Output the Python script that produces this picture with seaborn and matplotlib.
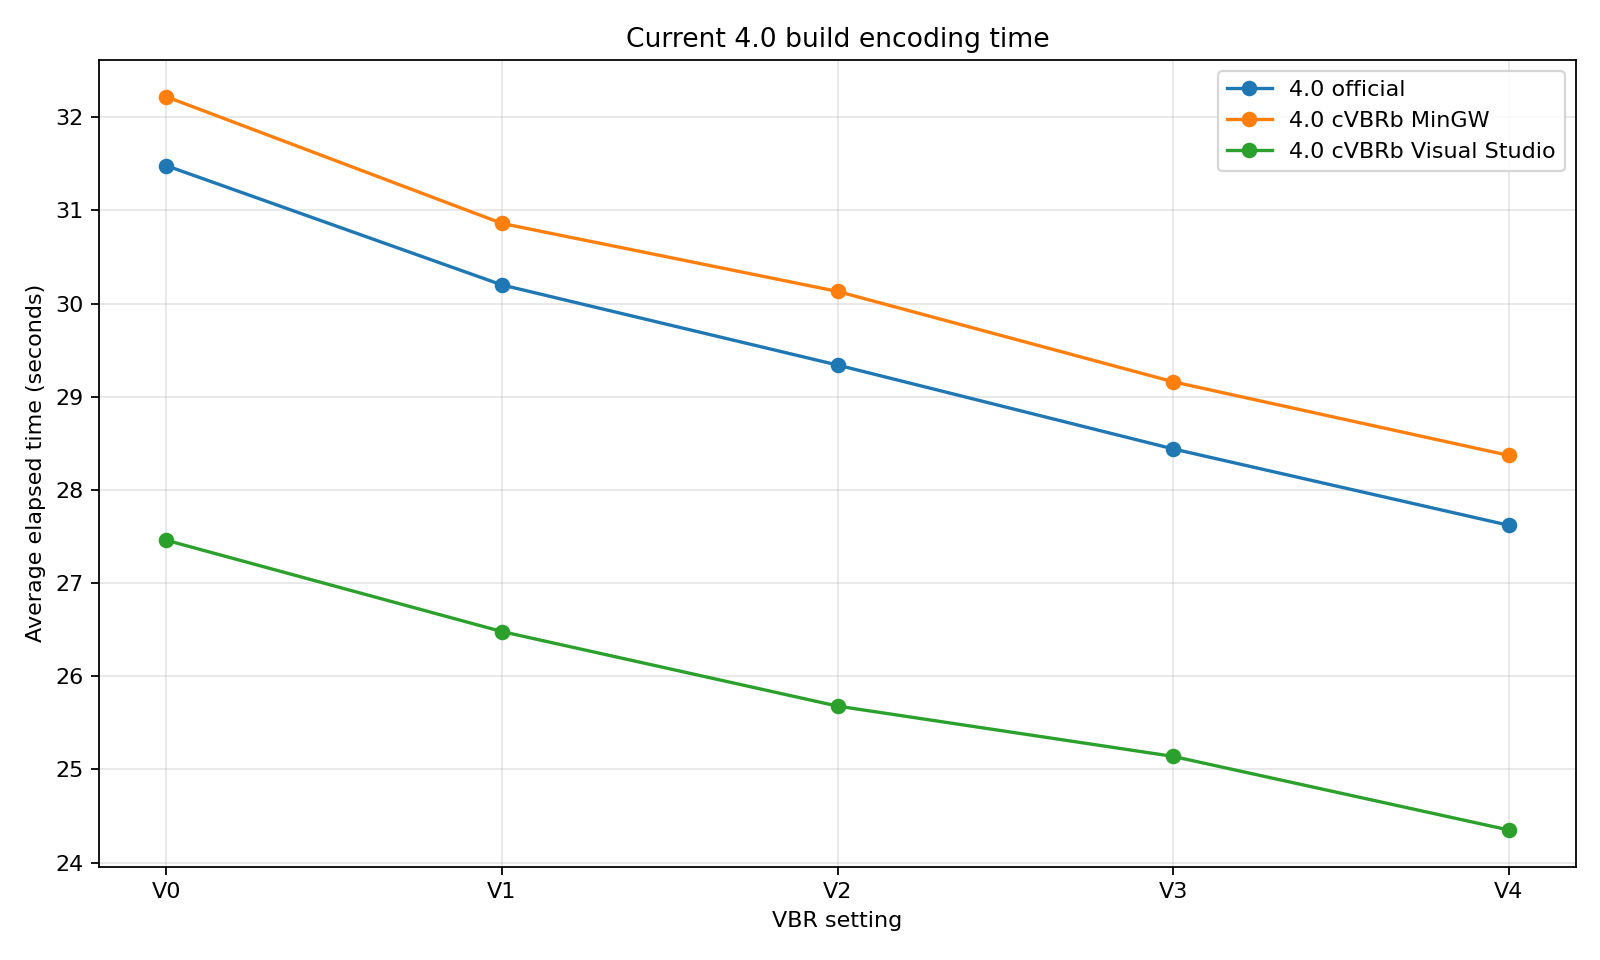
import matplotlib
matplotlib.use("Agg")
import matplotlib.pyplot as plt
import seaborn as sns
import pandas as pd

settings = ["V0", "V1", "V2", "V3", "V4"]
official = [31.48, 30.20, 29.34, 28.44, 27.62]
mingw = [32.22, 30.86, 30.13, 29.16, 28.37]
visual_studio = [27.46, 26.48, 25.68, 25.14, 24.35]
series_names = ["4.0 official", "4.0 cVBRb MinGW", "4.0 cVBRb Visual Studio"]

plt.rcParams['font.family'] = ['DejaVu Sans']

df = pd.DataFrame({
    "setting": settings * 3,
    "time": official + mingw + visual_studio,
    "series": [series_names[0]] * 5 + [series_names[1]] * 5 + [series_names[2]] * 5,
})

fig, ax = plt.subplots(figsize=(10, 6), dpi=160)
palette = ["#1f77b4", "#ff7f0e", "#2ca02c"]
for name, color in zip(series_names, palette):
    sub = df[df["series"] == name]
    sns.lineplot(data=sub, x="setting", y="time", marker="o", color=color,
                 label=name, ax=ax, markersize=6, markeredgecolor=color,
                 markeredgewidth=1, linewidth=1.5)

ax.set_title("Current 4.0 build encoding time")
ax.set_xlabel("VBR setting")
ax.set_ylabel("Average elapsed time (seconds)")
ax.grid(True, alpha=0.3)
ax.legend(loc="upper right")
fig.subplots_adjust(left=0.0619, right=0.985, top=0.9375, bottom=0.0972)
fig.savefig("out.png", dpi=160)
